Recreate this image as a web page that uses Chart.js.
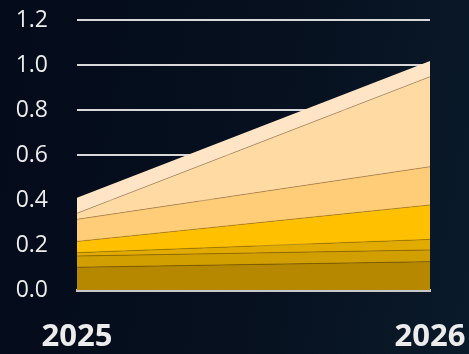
<!DOCTYPE html>
<html>
<head>
<meta charset="utf-8">
<script src="https://cdn.jsdelivr.net/npm/chart.js@4"></script>
<style>
  html, body { margin: 0; padding: 0; }
  body {
    width: 469px; height: 354px; overflow: hidden;
    background: linear-gradient(100deg, #040b1a 0%, #06101f 55%, #0a1a2a 100%);
  }
  canvas { display: block; }
</style>
</head>
<body>
<canvas id="chart1" width="469" height="354"></canvas>
<script>
const years = ['2025', '2026'];
const yTicks = [0, 0.2, 0.4, 0.6, 0.8, 1.0, 1.2];

// stacked layers, bottom to top
const layer1 = [0.101, 0.126];
const layer2 = [0.050, 0.052];
const layer3 = [0.015, 0.047];
const layer4 = [0.050, 0.153];
const layer5 = [0.098, 0.170];
const layer6 = [0.027, 0.400];
const layer7 = [0.069, 0.070];

const layers = [layer1, layer2, layer3, layer4, layer5, layer6, layer7];
const fills = ['#b58800', '#d29f00', '#e2ab00', '#ffc000', '#ffcd78', '#ffdaa2', '#ffe5c6'];
const lines = ['rgba(120,85,0,0.7)', 'rgba(140,100,0,0.7)', 'rgba(150,110,0,0.6)',
               'rgba(160,120,40,0.6)', 'rgba(170,130,80,0.7)', 'rgba(170,140,100,0.7)', 'rgba(0,0,0,0)'];

const config = {
    type: 'line',
    data: {
        labels: years,
        datasets: layers.map((d, i) => ({
            label: 'Layer ' + (i + 1),
            data: d,
            backgroundColor: fills[i],
            borderColor: lines[i],
            borderWidth: i === 6 ? 0 : 1,
            pointRadius: 0,
            tension: 0,
            fill: i === 0 ? 'origin' : '-1'
        }))
    },
    options: {
        responsive: false,
        animation: false,
        layout: { padding: { left: 0, right: 39, top: 20, bottom: 0 } },
        plugins: {
            legend: { display: false },
            tooltip: { enabled: false }
        },
        scales: {
            x: {
                offset: false,
                grid: { display: false, drawTicks: false },
                border: { display: true, color: '#c8c8c8', width: 3 },
                ticks: {
                    color: '#ececec',
                    font: { family: 'Open Sans', size: 31, weight: 'bold' },
                    padding: 29,
                    maxRotation: 0
                },
                afterFit: s => {
                    s.height = 64;
                    s.paddingLeft = 0;
                    s.paddingRight = 0;
                }
            },
            y: {
                stacked: true,
                min: 0,
                max: 1.2,
                afterBuildTicks: s => { s.ticks = yTicks.map(v => ({ value: v })); },
                grid: { color: '#d8d8d8', lineWidth: 2, drawTicks: false },
                border: { display: false },
                ticks: {
                    color: '#ececec',
                    font: { family: 'Open Sans', size: 23 },
                    padding: 29,
                    callback: v => v.toFixed(1)
                },
                afterFit: s => {
                    s.width = 77;
                    s.paddingTop = 0;
                    s.paddingBottom = 0;
                }
            }
        }
    }
};

const ctx1 = document.getElementById('chart1').getContext('2d');
const chart1 = new Chart(ctx1, config);
</script>
</body>
</html>
